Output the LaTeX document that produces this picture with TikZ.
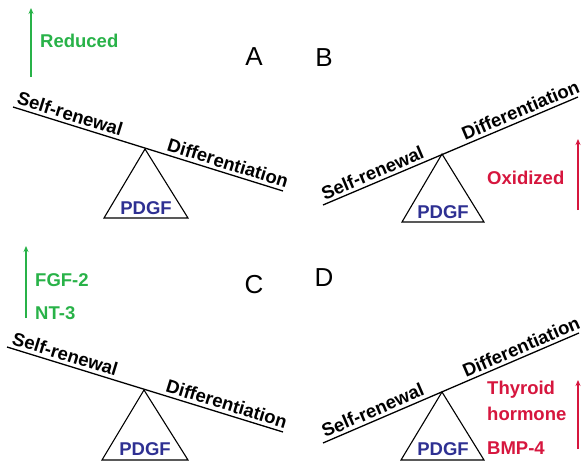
\documentclass[tikz,border=0pt]{standalone}
\usepackage{fontspec}
\setmainfont{Liberation Sans}
\usetikzlibrary{arrows.meta}
\definecolor{upgreen}{RGB}{40,178,72}
\definecolor{upred}{RGB}{214,22,62}
\definecolor{pdgfblue}{RGB}{46,48,146}
\tikzset{
  beam/.style={line width=1.3pt, black},
  fulcrum/.style={line width=1.1pt, black, line join=miter},
  beamlabel/.style={font=\fontsize{18.5}{20}\selectfont\bfseries, inner sep=3pt, above, sloped},
  pdgf/.style={font=\fontsize{18.5}{20}\selectfont\bfseries, text=pdgfblue, inner sep=0pt},
  factor/.style={font=\fontsize{18.5}{20}\selectfont\bfseries, inner sep=0pt, anchor=west},
  panel/.style={font=\fontsize{26}{28}\selectfont, inner sep=0pt},
  uparrow/.style={line width=1.5pt, -{Stealth[length=6pt,width=5pt]}},
}
\begin{document}
\begin{tikzpicture}[x=1pt, y=-1pt]
\useasboundingbox (0,0) rectangle (587,463);

% ---------- A ----------
\coordinate (aL) at (13,107);
\coordinate (aR) at (283,191);
\coordinate (aT) at (145,149);
\coordinate (aBL) at (104,218);
\coordinate (aBR) at (188,218);
\draw[fulcrum] (aT) -- (aBL) -- (aBR) -- cycle;
\draw[beam] (aL) -- (aR)
  node[beamlabel, pos=0.2] (aself) {Self-renewal}
  node[beamlabel, pos=0.785] (adiff) {Differentiation};
\node[pdgf] (apdgf) at (146,208) {PDGF};
\node[panel] (alab) at (254,57) {A};
\coordinate (aA0) at (31,77);
\coordinate (aA1) at (31,8);
\draw[uparrow, upgreen] (aA0) -- (aA1);
\node[factor, text=upgreen] (ared) at (40,41) {Reduced};

% ---------- B ----------
\coordinate (bL) at (323,205);
\coordinate (bR) at (578,97);
\coordinate (bT) at (442,154);
\coordinate (bBL) at (402,222);
\coordinate (bBR) at (484,222);
\draw[fulcrum] (bT) -- (bBL) -- (bBR) -- cycle;
\draw[beam] (bL) -- (bR)
  node[beamlabel, pos=0.21] (bself) {Self-renewal}
  node[beamlabel, pos=0.79] (bdiff) {Differentiation};
\node[pdgf] (bpdgf) at (443,212) {PDGF};
\node[panel] (blab) at (324,58) {B};
\coordinate (bA0) at (578,210);
\coordinate (bA1) at (578,139);
\draw[uparrow, upred] (bA0) -- (bA1);
\node[factor, text=upred] (box) at (487,178) {Oxidized};

% ---------- C ----------
\coordinate (cL) at (7,347);
\coordinate (cR) at (283,432);
\coordinate (cT) at (144,390);
\coordinate (cBL) at (102,460);
\coordinate (cBR) at (188,460);
\draw[fulcrum] (cT) -- (cBL) -- (cBR) -- cycle;
\draw[beam] (cL) -- (cR)
  node[beamlabel, pos=0.2] (cself) {Self-renewal}
  node[beamlabel, pos=0.785] (cdiff) {Differentiation};
\node[pdgf] (cpdgf) at (145,449) {PDGF};
\node[panel] (clab) at (254,285) {C};
\coordinate (cA0) at (26,318);
\coordinate (cA1) at (26,246);
\draw[uparrow, upgreen] (cA0) -- (cA1);
\node[factor, text=upgreen] (cfgf) at (35,280) {FGF-2};
\node[factor, text=upgreen] (cnt) at (35,313) {NT-3};

% ---------- D ----------
\coordinate (dL) at (323,443);
\coordinate (dR) at (579,333);
\coordinate (dT) at (442,392);
\coordinate (dBL) at (401,460);
\coordinate (dBR) at (484,460);
\draw[fulcrum] (dT) -- (dBL) -- (dBR) -- cycle;
\draw[beam] (dL) -- (dR)
  node[beamlabel, pos=0.21] (dself) {Self-renewal}
  node[beamlabel, pos=0.79] (ddiff) {Differentiation};
\node[pdgf] (dpdgf) at (443,449) {PDGF};
\node[panel] (dlab) at (324,278) {D};
\coordinate (dA0) at (578,449);
\coordinate (dA1) at (578,380);
\draw[uparrow, upred] (dA0) -- (dA1);
\node[factor, text=upred] (dthy) at (487,390) {Thyroid};
\node[factor, text=upred] (dhor) at (487,414) {hormone};
\node[factor, text=upred] (dbmp) at (487,448) {BMP-4};
\end{tikzpicture}
\end{document}
